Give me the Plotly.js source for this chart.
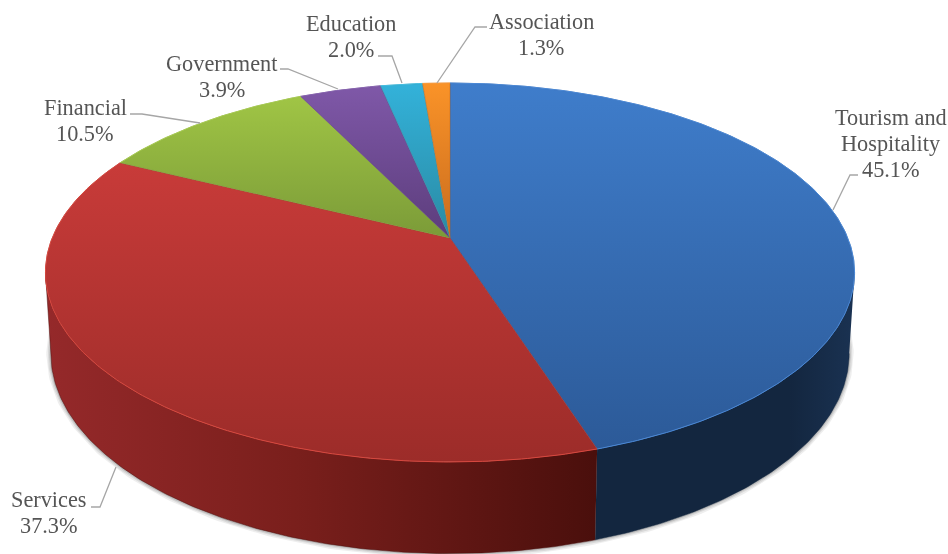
<!DOCTYPE html>
<html><head><meta charset="utf-8">
<script src="https://cdn.plot.ly/plotly-3.0.1.min.js"></script>
<style>html,body{margin:0;padding:0;background:#fff}#chart{width:948px;height:554px;filter:blur(0.45px)}</style>
</head><body><div id="chart"></div>
<script>
// Chart data
const categories = ["Tourism and<br>Hospitality","Services","Financial","Government","Education","Association"];
const shares = [45.1,37.3,10.5,3.9,2.0,1.3];
const percentLabels = ["45.1%","37.3%","10.5%","3.9%","2.0%","1.3%"];

// Styling
const topLight = ["#3f7dcb","#c83b39","#a0c545","#7f58a8","#33b2da","#fa9328"];
const topDark  = ["#2c5a98","#9c2c29","#7b9b38","#5c3d7c","#2a8aa3","#c96c1e"];
const rimColor = ["#4a88d6","#d8483f","#a8cc50","#8763b0","#45bde0","#fb9c3a"];
const wallNear = ["#13263f","#4a0f0c"];
const wallFar  = ["#1a3252","#95292a"];
const labelAnchor = [[891,143],[49,512],[85,120],[222,76],[351,36],[541,34]];
const leaders = [
  [[858,175],[850,175],[833,210]],
  [[91,507],[100,507],[116,467]],
  [[130,114],[142,114],[200,123]],
  [[280,69],[288,69],[338,89]],
  [[378,56],[392,56],[402,83]],
  [[487,27],[475,27],[437,83]]
];

// Perspective view of the top and bottom discs
const K = 0.182;
const topDisc = {cx:450, cy:238, ax:397.8, ay:183.2};
const botDisc = {cx:450, cy:317, ax:392.5, ay:193.5};
function project(d, a){           // a = clockwise angle from 12 o'clock
  const u = Math.sin(a), v = -Math.cos(a), w = 1 - K*v;
  return [d.cx + d.ax*u/w, d.cy + d.ay*v/w];
}
function arc(d, a0, a1){
  const n = Math.max(2, Math.ceil(Math.abs(a1-a0)*180/Math.PI*1.5)), pts = [];
  for(let i=0;i<=n;i++) pts.push(project(d, a0+(a1-a0)*i/n));
  return pts;
}
const total = shares.reduce((s,x)=>s+x,0);
const edges = [0];
shares.forEach(s=>edges.push(edges[edges.length-1]+s/total*2*Math.PI));
const sideR = Math.acos(-K), sideL = 2*Math.PI - sideR;

const skip = {hoverinfo:'skip', showlegend:false, mode:'lines', type:'scatter'};
const xs = p=>p.map(q=>q[0]), ys = p=>p.map(q=>q[1]);
const traces = [];

// soft drop shadow under the wall
[[9,0.10],[6,0.14],[3,0.22]].forEach(([w,o])=>{
  const p = arc(botDisc, sideR-0.12, sideL+0.12);
  traces.push({...skip, x:xs(p), y:ys(p), line:{color:`rgba(90,90,90,${o})`, width:w}});
});

// side walls
[[0,sideR,edges[1]],[1,edges[1],sideL]].forEach(([i,a0,a1])=>{
  const p = arc(topDisc,a0,a1).concat(arc(botDisc,a1,a0));
  const x = xs(p), lo = Math.min(...x), hi = Math.max(...x);
  const colors = i===0 ? [[0,wallNear[0]],[0.75,wallNear[0]],[1,wallFar[0]]]
                       : [[0,wallFar[1]],[0.45,"#7a1f1c"],[1,wallNear[1]]];
  traces.push({...skip, x, y:ys(p), fill:'toself',
    line:{width:0.5,color:wallNear[i]},
    fillgradient:{type:'horizontal', start:lo, stop:hi, colorscale:colors}});
});

// top slices
shares.forEach((s,i)=>{
  const p = [[topDisc.cx,topDisc.cy]].concat(arc(topDisc,edges[i],edges[i+1]));
  p.push([topDisc.cx,topDisc.cy]);
  const y = ys(p), lo = Math.min(...y), hi = Math.max(...y);
  traces.push({...skip, x:xs(p), y, fill:'toself',
    line:{width:0.5,color:topDark[i]},
    fillgradient:{type:'vertical', start:lo, stop:hi,
      colorscale:[[0,topLight[i]],[1,topDark[i]]]}});
});
// thin highlight round the rim
shares.forEach((s,i)=>{
  const p = arc(topDisc,edges[i],edges[i+1]);
  traces.push({...skip, x:xs(p), y:ys(p), line:{width:1,color:rimColor[i]}});
});

const font = {family:'"Liberation Serif","Times New Roman",serif', size:22.3, color:'#555555'};
const LINE = 26;
const annotations = [];
categories.forEach((c,i)=>{
  const lines = c.split('<br>').concat(percentLabels[i]);
  lines.forEach((t,j)=>annotations.push({
    x:labelAnchor[i][0], y:labelAnchor[i][1]+(j-(lines.length-1)/2)*LINE,
    xref:'x', yref:'y', showarrow:false, text:t, font,
    xanchor:'center', yanchor:'middle'
  }));
});
const shapes = leaders.map(l=>({
  type:'path', xref:'x', yref:'y', layer:'above',
  path:'M'+l.map(q=>q.join(',')).join('L'),
  line:{color:'#a6a6a6', width:1.3}, fillcolor:'rgba(0,0,0,0)'
}));

Plotly.newPlot('chart', traces, {
  width:948, height:554, margin:{l:0,r:0,t:0,b:0},
  paper_bgcolor:'#fff', plot_bgcolor:'#fff', showlegend:false,
  xaxis:{range:[0,948], visible:false, fixedrange:true},
  yaxis:{range:[554,0], visible:false, fixedrange:true},
  annotations, shapes
}, {displayModeBar:false, staticPlot:true});
</script></body></html>
